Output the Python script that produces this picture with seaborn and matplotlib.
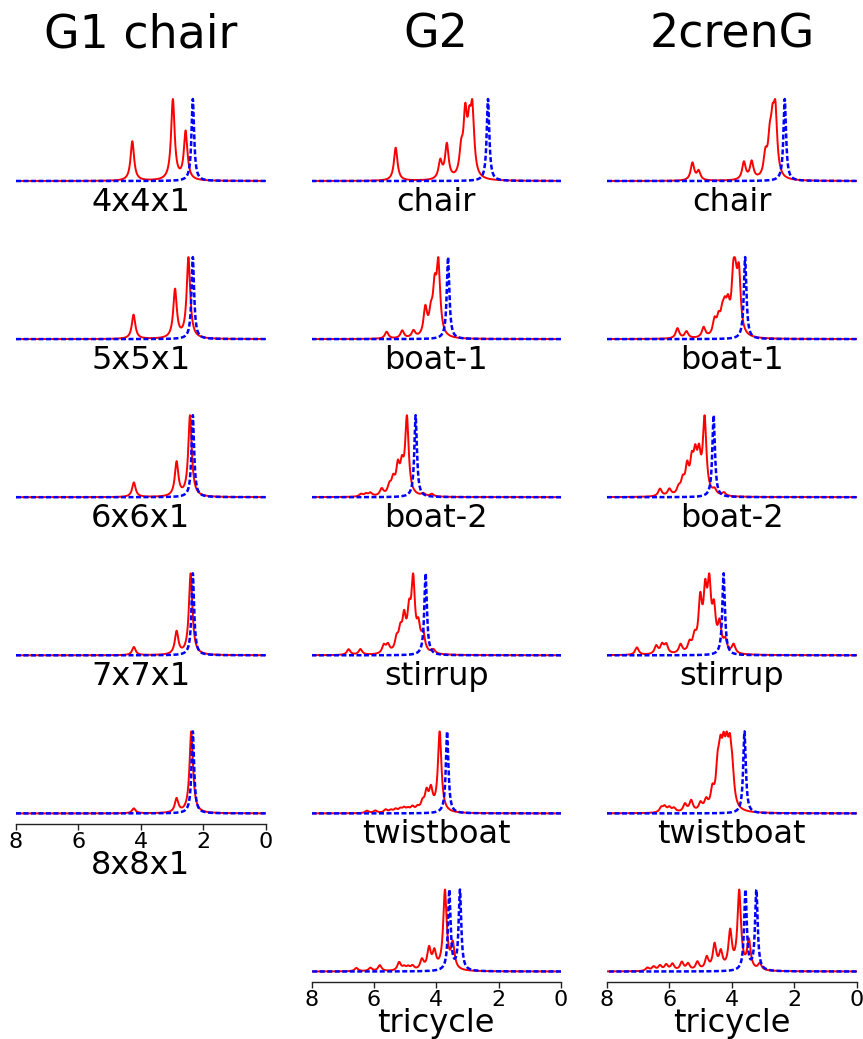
import numpy as np
import matplotlib
matplotlib.use("Agg")
import matplotlib.pyplot as plt
import seaborn as sns

sns.set_theme(style="white")
plt.rcParams["font.family"] = ["DejaVu Sans"]
plt.rcParams["text.color"] = "black"
plt.rcParams["axes.labelcolor"] = "black"
plt.rcParams["xtick.color"] = "black"

W, H = 863, 1039

# column titles and panel labels
col_titles = ["G1 chair", "G2", "2crenG"]
g1_labels = ["4x4x1", "5x5x1", "6x6x1", "7x7x1", "8x8x1"]
conf_labels = ["chair", "boat-1", "boat-2", "stirrup", "twistboat", "tricycle"]
x_ticks = [0, 2, 4, 6, 8]

# peak lists: (shift in ppm, relative amplitude)
# --- G1 chair series, computed (red) and reference (blue)
g1_4x4x1 = [(4.27, 0.49), (2.97, 1.0), (2.56, 0.60)]
g1_5x5x1 = [(4.23, 0.30), (2.90, 0.60), (2.47, 1.0)]
g1_6x6x1 = [(4.22, 0.18), (2.85, 0.42), (2.42, 1.0)]
g1_7x7x1 = [(4.22, 0.10), (2.85, 0.28), (2.40, 1.0)]
g1_8x8x1 = [(4.22, 0.06), (2.85, 0.17), (2.38, 1.0)]
g1_ref = [(2.33, 1.0)]

# --- G2 conformers
g2_chair = [(5.30, 0.48), (3.87, 0.26), (3.66, 0.50), (3.20, 0.35),
            (3.07, 0.85), (2.94, 0.60), (2.84, 0.90)]
g2_chair_ref = [(2.34, 1.0)]
g2_boat1 = [(5.59, 0.09), (5.09, 0.10), (4.73, 0.09), (4.35, 0.36),
            (4.17, 0.25), (4.05, 0.55), (3.93, 0.90)]
g2_boat1_ref = [(3.62, 1.0)]
g2_boat2 = [(6.41, 0.03), (6.25, 0.03), (6.11, 0.04), (5.75, 0.08),
            (5.50, 0.10), (5.38, 0.16), (5.23, 0.30), (5.10, 0.28),
            (4.94, 0.90), (4.41, 0.03), (4.14, 0.03)]
g2_boat2_ref = [(4.66, 1.0)]
g2_stirrup = [(6.81, 0.07), (6.43, 0.07), (5.68, 0.10), (5.55, 0.10),
              (5.27, 0.15), (5.15, 0.22), (5.03, 0.38), (4.87, 0.42),
              (4.74, 0.85), (4.57, 0.28), (4.42, 0.22), (4.09, 0.05)]
g2_stirrup_ref = [(4.34, 1.0)]
g2_twistboat = [(6.22, 0.03), (5.95, 0.03), (5.62, 0.04), (5.45, 0.03),
                (5.30, 0.04), (5.15, 0.04), (5.03, 0.05), (4.90, 0.04),
                (4.76, 0.06), (4.60, 0.05), (4.44, 0.10), (4.31, 0.22),
                (4.17, 0.25), (3.89, 1.0)]
g2_twistboat_ref = [(3.65, 1.0)]
g2_tricycle = [(6.56, 0.04), (6.11, 0.04), (5.81, 0.07), (5.19, 0.10),
               (5.03, 0.04), (4.90, 0.04), (4.76, 0.05), (4.46, 0.12),
               (4.23, 0.25), (4.06, 0.20), (3.72, 0.95), (3.47, 0.30)]
g2_tricycle_ref = [(3.58, 1.0), (3.24, 1.0)]

# --- 2crenG conformers
cr_chair = [(5.26, 0.25), (5.06, 0.13), (3.61, 0.25), (3.36, 0.25),
            (2.92, 0.30), (2.78, 0.45), (2.69, 0.60), (2.60, 0.85)]
cr_chair_ref = [(2.30, 1.0)]
cr_boat1 = [(5.74, 0.15), (5.45, 0.10), (4.90, 0.15), (4.55, 0.22),
            (4.42, 0.22), (4.30, 0.25), (4.22, 0.30), (4.12, 0.35),
            (3.95, 0.70), (3.88, 0.55), (3.77, 0.85)]
cr_boat1_ref = [(3.57, 1.0)]
cr_boat2 = [(6.30, 0.09), (6.00, 0.08), (5.70, 0.08), (5.57, 0.15),
            (5.43, 0.30), (5.28, 0.33), (5.17, 0.38), (5.05, 0.40),
            (4.87, 0.90), (4.55, 0.06), (4.25, 0.04)]
cr_boat2_ref = [(4.58, 1.0)]
cr_stirrup = [(7.04, 0.10), (6.42, 0.11), (6.23, 0.12), (6.10, 0.12),
              (5.64, 0.12), (5.35, 0.12), (5.19, 0.18), (5.01, 0.65),
              (4.85, 0.70), (4.72, 0.80), (4.57, 0.50), (4.39, 0.35),
              (4.21, 0.15), (3.94, 0.12)]
cr_stirrup_ref = [(4.26, 1.0)]
cr_twistboat = [(6.26, 0.06), (6.15, 0.07), (6.00, 0.06), (5.85, 0.05),
                (5.50, 0.10), (5.30, 0.14), (5.00, 0.10), (4.82, 0.12),
                (4.62, 0.22), (4.45, 0.45), (4.36, 0.55), (4.26, 0.55),
                (4.16, 0.55), (4.06, 0.60), (3.98, 0.35)]
cr_twistboat_ref = [(3.59, 1.0)]
cr_tricycle = [(6.70, 0.04), (6.50, 0.05), (6.30, 0.06), (6.10, 0.07),
               (5.90, 0.08), (5.60, 0.10), (5.40, 0.08), (5.10, 0.10),
               (4.80, 0.15), (4.55, 0.30), (4.35, 0.20), (4.05, 0.45),
               (3.76, 0.95), (3.45, 0.35), (3.10, 0.08)]
cr_tricycle_ref = [(3.56, 1.0), (3.21, 1.0)]

columns = [
    [(g1_4x4x1, g1_ref), (g1_5x5x1, g1_ref), (g1_6x6x1, g1_ref),
     (g1_7x7x1, g1_ref), (g1_8x8x1, g1_ref)],
    [(g2_chair, g2_chair_ref), (g2_boat1, g2_boat1_ref),
     (g2_boat2, g2_boat2_ref), (g2_stirrup, g2_stirrup_ref),
     (g2_twistboat, g2_twistboat_ref), (g2_tricycle, g2_tricycle_ref)],
    [(cr_chair, cr_chair_ref), (cr_boat1, cr_boat1_ref),
     (cr_boat2, cr_boat2_ref), (cr_stirrup, cr_stirrup_ref),
     (cr_twistboat, cr_twistboat_ref), (cr_tricycle, cr_tricycle_ref)],
]
labels = [g1_labels, conf_labels, conf_labels]

ppm = np.linspace(0, 8, 2401)


def spectrum(peaks, hwhm):
    """Sum of Lorentzian lines, scaled to a maximum of one."""
    y = np.zeros_like(ppm)
    for shift, amp in peaks:
        y += amp / (1.0 + ((ppm - shift) / hwhm) ** 2)
    return y / y.max()


# panel geometry in pixels
col_left = [16, 311.5, 607]
col_width = 249.5
row_base0, row_step, unit = 181, 158.1, 82
y_lo, y_hi = -0.02, 1.05

fig = plt.figure(figsize=(W / 100, H / 100), dpi=100)

for c, (panels, labs) in enumerate(zip(columns, labels)):
    n = len(panels)
    for r, ((calc, ref), lab) in enumerate(zip(panels, labs)):
        base = row_base0 + r * row_step
        top_px = base - unit * y_hi
        bot_px = base - unit * y_lo
        ax = fig.add_axes([col_left[c] / W, 1 - bot_px / H,
                           col_width / W, (bot_px - top_px) / H])
        sns.lineplot(x=ppm, y=spectrum(calc, 0.068), ax=ax, color="red",
                     lw=1.4, estimator=None, sort=False)
        sns.lineplot(x=ppm, y=spectrum(ref, 0.05), ax=ax, color="blue",
                     lw=1.8, linestyle=(0, (2, 1)), estimator=None,
                     sort=False)
        ax.set_xlim(8, 0)
        ax.set_ylim(y_lo, y_hi)
        ax.set_yticks([])
        ax.set_ylabel("")
        if r == n - 1:
            sns.despine(ax=ax, left=True, offset={"bottom": 6.5})
            ax.spines["bottom"].set_color("#222222")
            ax.spines["bottom"].set_linewidth(1.0)
            ax.set_xticks(x_ticks)
            ax.tick_params(axis="x", bottom=True, direction="out",
                           length=4, width=1, labelsize=16, pad=1.5,
                           color="#222222")
            ax.set_xlabel(lab, fontsize=23, labelpad=-1)
        else:
            sns.despine(ax=ax, left=True, bottom=True)
            ax.set_xticks([])
            ax.set_xlabel(lab, fontsize=23, labelpad=3)
        ax.patch.set_alpha(0)

    cx = (col_left[c] + col_width / 2) / W
    fig.text(cx, 1 - 35 / H, col_titles[c], ha="center", va="center",
             fontsize=33)

fig.savefig("out.png", dpi=100)
